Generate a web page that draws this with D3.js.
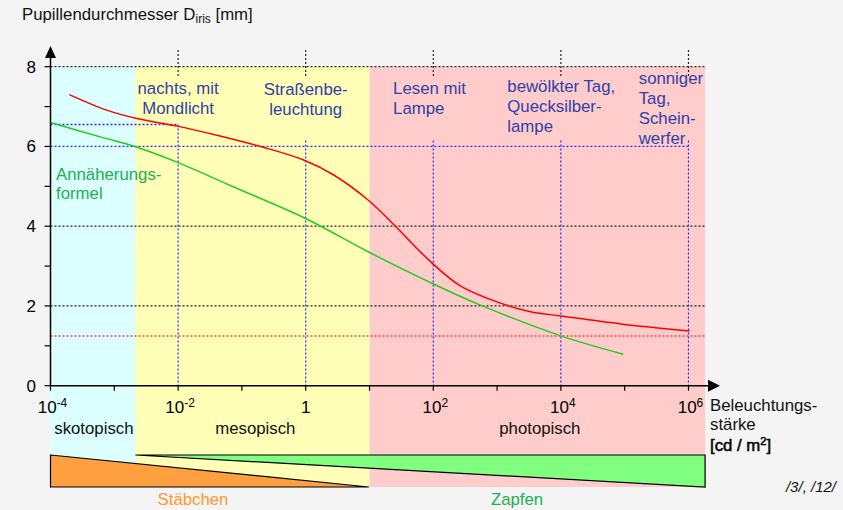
<!DOCTYPE html>
<html>
<head>
<meta charset="utf-8">
<script src="https://cdn.jsdelivr.net/npm/d3@7"></script>
<style>
body { margin:0; background:#f4f4f4; }
text { font-family: "Liberation Sans", Arial, sans-serif; }
</style>
</head>
<body>
<div id="chart"></div>
<script>
// Leuchtdichte in cd/m2 und Pupillendurchmesser in mm
var redLum = [1.97e-4, 7.6e-4, 2.25e-3, 9.6e-3, 0.0406, 0.216, 0.93, 2.71, 9.6, 25, 95, 262, 1130, 3490, 9950, 87100, 1.04e6];
var redD   = [7.30, 6.91, 6.70, 6.51, 6.28, 5.98, 5.66, 5.29, 4.65, 4.01, 3.08, 2.51, 2.07, 1.85, 1.75, 1.55, 1.37];
var greenLum = [1e-4, 6.0e-4, 2.1e-3, 9.8e-3, 0.073, 0.98, 9.5, 95, 550, 1e4, 9.5e4];
var greenD   = [6.60, 6.24, 6.00, 5.60, 4.99, 4.20, 3.36, 2.57, 2.02, 1.25, 0.79];

var xTicks = [1e-4, 1e-3, 1e-2, 1e-1, 1, 1e1, 1e2, 1e3, 1e4, 1e5, 1e6];
var xLabels = [[1e-4, "-4"], [1e-2, "-2"], [1, ""], [1e2, "2"], [1e4, "4"], [1e6, "6"]];
var yTicks = [0, 1, 2, 3, 4, 5, 6, 7, 8];
var yLabels = [0, 2, 4, 6, 8];

// Bereiche: skotopisch, mesopisch, photopisch
var zones = [[1e-4, 10**-2.67, "#dcffff", "skotopisch"], [10**-2.67, 10**1.0, "#ffffb8", "mesopisch"], [10**1.0, 10**6.26, "#ffcccc", "photopisch"]];
var zoneLabelX = [10**-3.32, 10**-0.79, 10**3.67];

var situations = [
    {x: 10**-2.0, anchor: "middle", lines: ["nachts, mit", "Mondlicht"]},
    {x: 10**0.0, anchor: "middle", lines: ["Straßenbe-", "leuchtung"]},
    {x: 10**1.37, anchor: "start", lines: ["Lesen mit", "Lampe"]},
    {x: 10**3.16, anchor: "start", lines: ["bewölkter Tag,", "Quecksilber-", "lampe"]},
    {x: 10**5.22, anchor: "start", lines: ["sonniger", "Tag,", "Schein-", "werfer"]}
];
var situationTop = [94, 95, 94, 92, 84];

var svg = d3.select("#chart").append("svg").attr("width", 843).attr("height", 510);

var x = d3.scaleLog().domain([1e-4, 1e6]).range([50.5, 688.5]);
var y = d3.scaleLinear().domain([0, 8]).range([385.7, 66.7]);
var fs = 16.8;

// Hintergrund
svg.selectAll(".zone").data(zones).enter().append("rect")
    .attr("x", function(d){ return x(d[0]); })
    .attr("y", y(8))
    .attr("width", function(d){ return x(d[1]) - x(d[0]); })
    .attr("height", 487 - y(8))
    .attr("fill", function(d){ return d[2]; });

// Gitterlinien
var black = "#222";
[8, 4, 2].forEach(function(v){
    svg.append("line").attr("x1", x(1e-4)).attr("x2", x(10**6.26)).attr("y1", y(v)).attr("y2", y(v))
        .attr("stroke", black).attr("stroke-width", 1.2).attr("stroke-dasharray", "2,2");
});
[1e-2, 1, 1e2, 1e4, 1e6].forEach(function(v){
    svg.append("line").attr("x1", x(v)).attr("x2", x(v)).attr("y1", 50).attr("y2", 77)
        .attr("stroke", black).attr("stroke-width", 1.2).attr("stroke-dasharray", "2,2");
});
svg.append("line").attr("x1", x(1e-4)).attr("x2", x(10**6.26)).attr("y1", y(1.245)).attr("y2", y(1.245))
    .attr("stroke", "#ff4040").attr("stroke-width", 1.5).attr("stroke-dasharray", "2,2");

var blue = "#2a2aff";
svg.append("line").attr("x1", x(1e-4)).attr("x2", x(1e6)).attr("y1", y(6)).attr("y2", y(6))
    .attr("stroke", blue).attr("stroke-width", 1.3).attr("stroke-dasharray", "2,2");
svg.append("line").attr("x1", x(1e-4)).attr("x2", x(1e-2)).attr("y1", y(6.55)).attr("y2", y(6.55))
    .attr("stroke", blue).attr("stroke-width", 1.3).attr("stroke-dasharray", "2,2");
svg.append("line").attr("x1", x(1e-2)).attr("x2", x(1e-2)).attr("y1", y(6.55)).attr("y2", y(0))
    .attr("stroke", blue).attr("stroke-width", 1.2).attr("stroke-dasharray", "2,2");
[1, 1e2, 1e4, 1e6].forEach(function(v){
    svg.append("line").attr("x1", x(v)).attr("x2", x(v)).attr("y1", y(6.15)).attr("y2", y(0))
        .attr("stroke", blue).attr("stroke-width", 1.2).attr("stroke-dasharray", "2,2");
});

// Kurven
var line = d3.line().curve(d3.curveCatmullRom.alpha(0.5))
    .x(function(d){ return x(d[0]); }).y(function(d){ return y(d[1]); });
svg.append("path").attr("d", line(d3.zip(greenLum, greenD)))
    .attr("fill", "none").attr("stroke", "#22cc22").attr("stroke-width", 1.5);
svg.append("path").attr("d", line(d3.zip(redLum, redD)))
    .attr("fill", "none").attr("stroke", "#ff0000").attr("stroke-width", 1.5);

// Achsen
svg.append("line").attr("x1", x(1e-4)).attr("x2", 710).attr("y1", y(0)).attr("y2", y(0)).attr("stroke", "#000").attr("stroke-width", 1.5);
svg.append("path").attr("d", "M708," + (y(0) - 6) + "L720," + y(0) + "L708," + (y(0) + 6) + "Z").attr("fill", "#000");
svg.append("line").attr("x1", x(1e-4)).attr("x2", x(1e-4)).attr("y1", y(0)).attr("y2", 56).attr("stroke", "#000").attr("stroke-width", 1.5);
svg.append("path").attr("d", "M" + (x(1e-4) - 5.5) + ",58L" + x(1e-4) + ",46L" + (x(1e-4) + 5.5) + ",58Z").attr("fill", "#000");

svg.selectAll(".xt").data(xTicks).enter().append("line")
    .attr("x1", function(d){ return x(d); }).attr("x2", function(d){ return x(d); })
    .attr("y1", y(0)).attr("y2", y(0) + 5).attr("stroke", "#000").attr("stroke-width", 1.2);
svg.selectAll(".yt").data(yTicks).enter().append("line")
    .attr("x1", x(1e-4) - 6).attr("x2", x(1e-4)).attr("y1", function(d){ return y(d); }).attr("y2", function(d){ return y(d); })
    .attr("stroke", "#000").attr("stroke-width", 1.2);

svg.selectAll(".yl").data(yLabels).enter().append("text")
    .attr("x", 36).attr("y", function(d){ return y(d) + 6; })
    .attr("text-anchor", "end").attr("font-size", 17).attr("fill", "#000")
    .text(function(d){ return d; });

var xl = svg.selectAll(".xl").data(xLabels).enter().append("text")
    .attr("x", function(d){ return x(d[0]) + (d[1] ? 2 : 0); }).attr("y", 413)
    .attr("text-anchor", "middle").attr("font-size", 17).attr("fill", "#000");
xl.append("tspan").text(function(d){ return d[1] ? "10" : "1"; });
xl.append("tspan").attr("dy", -6).attr("font-size", 12).text(function(d){ return d[1]; });

// Titel
var title = svg.append("text").attr("x", 22).attr("y", 20).attr("font-size", fs).attr("fill", "#111");
title.append("tspan").text("Pupillendurchmesser D");
title.append("tspan").attr("font-size", 12).attr("dy", 3).text("iris");
title.append("tspan").attr("dy", -3).text(" [mm]");

// Situationen
situations.forEach(function(s, i){
    var t = svg.append("text").attr("font-size", fs).attr("fill", "#3040a8").attr("text-anchor", s.anchor);
    s.lines.forEach(function(l, j){
        t.append("tspan").attr("x", x(s.x)).attr("y", situationTop[i] + j * 20).text(l);
    });
});

var approx = svg.append("text").attr("font-size", fs).attr("fill", "#20b050");
approx.append("tspan").attr("x", 56).attr("y", 180).text("Annäherungs-");
approx.append("tspan").attr("x", 56).attr("y", 199).text("formel");

svg.selectAll(".zl").data(zones).enter().append("text")
    .attr("x", function(d, i){ return x(zoneLabelX[i]); }).attr("y", 434)
    .attr("text-anchor", "middle").attr("font-size", fs).attr("fill", "#111")
    .text(function(d){ return d[3]; });

// Stäbchen und Zapfen
svg.append("path")
    .attr("d", "M" + x(1e-4) + ",455L" + x(10**0.99) + ",487L" + x(1e-4) + ",487Z")
    .attr("fill", "#ffa040").attr("stroke", "#000").attr("stroke-width", 1.2);
svg.append("path")
    .attr("d", "M" + x(10**-2.67) + ",455L" + x(10**6.26) + ",455L" + x(10**6.26) + ",487Z")
    .attr("fill", "#80ff80").attr("stroke", "#000").attr("stroke-width", 1.2);
svg.append("text").attr("x", 193).attr("y", 505).attr("text-anchor", "middle").attr("font-size", fs).attr("fill", "#ff9933").text("Stäbchen");
svg.append("text").attr("x", 517).attr("y", 505).attr("text-anchor", "middle").attr("font-size", fs).attr("fill", "#20b050").text("Zapfen");

// Achsenbeschriftung
var xt = svg.append("text").attr("font-size", fs).attr("fill", "#111");
xt.append("tspan").attr("x", 710).attr("y", 411).text("Beleuchtungs-");
xt.append("tspan").attr("x", 710).attr("y", 430).text("stärke");
var unit = svg.append("text").attr("x", 710).attr("y", 451).attr("font-size", fs).attr("fill", "#000")
    .attr("stroke", "#000").attr("stroke-width", 0.5);
unit.append("tspan").text("[cd / m");
unit.append("tspan").attr("dy", -6).attr("font-size", 11).text("2");
unit.append("tspan").attr("dy", 6).text("]");

svg.append("text").attr("x", 836).attr("y", 492).attr("text-anchor", "end").attr("font-size", 15).attr("font-style", "italic").attr("fill", "#111").text("/3/, /12/");
</script>
</body>
</html>
